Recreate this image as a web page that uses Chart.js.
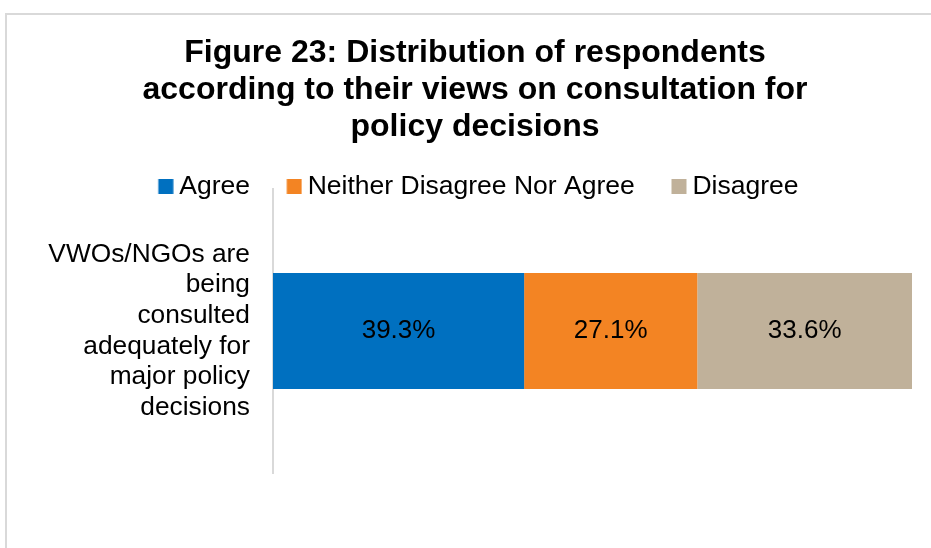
<!DOCTYPE html>
<html>
<head>
<meta charset="utf-8">
<script src="https://cdn.jsdelivr.net/npm/chart.js@4"></script>
<style>
  html, body { margin: 0; padding: 0; background: #ffffff; width: 931px; height: 548px; overflow: hidden; }
  #frame { position: absolute; left: 5px; top: 13px; width: 2000px; height: 2000px;
           border-left: 2px solid #d9d9d9; border-top: 2px solid #d9d9d9; }
  #wrap { position: absolute; left: 38px; top: 0; width: 874px; height: 548px; }
</style>
</head>
<body>
<div id="frame"></div>
<div id="wrap"><canvas id="c"></canvas></div>
<script>
const titleLines = ["Figure 23: Distribution of respondents", "according to their views on consultation for", "policy decisions"];
const categories = [["VWOs/NGOs are", "being", "consulted", "adequately for", "major policy", "decisions"]];
const seriesNames = ["Agree", "Neither Disagree Nor Agree", "Disagree"];
const agreeValues = [39.3];
const neitherValues = [27.1];
const disagreeValues = [33.6];
const seriesColors = ["#0070C0", "#F38423", "#C0B19A"];

const FONT = '"Liberation Sans", Arial, sans-serif';
const LEGEND_FS = 26.5;

// legend marker: a 15px square placed at the right side of a wider transparent image,
// so it sits close to its label text
function markerImage(color) {
  const c = document.createElement('canvas');
  c.width = 42; c.height = 15;
  const g = c.getContext('2d');
  g.fillStyle = color;
  g.fillRect(26.5, 0, 15, 15);
  return c;
}
const markers = seriesColors.map(markerImage);

const valueLabels = {
  id: 'valueLabels',
  afterDatasetsDraw(chart) {
    const ctx = chart.ctx;
    ctx.save();
    ctx.font = '26px ' + FONT;
    ctx.fillStyle = '#000000';
    ctx.textAlign = 'center';
    ctx.textBaseline = 'middle';
    chart.data.datasets.forEach((ds, di) => {
      const meta = chart.getDatasetMeta(di);
      meta.data.forEach((el, i) => {
        const v = ds.data[i];
        const p = el.getProps(['x', 'y', 'base'], true);
        ctx.fillText(v.toFixed(1) + '%', (p.x + p.base) / 2, p.y);
      });
    });
    ctx.restore();
  }
};

const legendShift = {
  id: 'legendShift',
  afterLayout(chart) {
    const lg = chart.legend;
    if (lg) { lg.top += 21; lg.bottom += 21; lg.left -= 6; lg.right -= 6; }
  }
};

new Chart(document.getElementById('c'), {
  type: 'bar',
  data: {
    labels: categories,
    datasets: [
      { label: seriesNames[0], data: agreeValues, backgroundColor: seriesColors[0] },
      { label: seriesNames[1], data: neitherValues, backgroundColor: seriesColors[1] },
      { label: seriesNames[2], data: disagreeValues, backgroundColor: seriesColors[2] }
    ]
  },
  options: {
    indexAxis: 'y',
    responsive: true,
    maintainAspectRatio: false,
    animation: false,
    layout: { padding: { top: 0, bottom: 75, left: 0, right: 0 } },
    datasets: { bar: { categoryPercentage: 1, barPercentage: 0.408, borderWidth: 0 } },
    scales: {
      x: { stacked: true, min: 0, max: 100, display: false },
      y: {
        stacked: true,
        grid: { display: false, drawTicks: false },
        border: { display: true, color: '#d9d9d9', width: 2 },
        ticks: { color: '#000000', padding: 23, font: { family: FONT, size: 26.3, lineHeight: 1.163 } },
        afterFit(scale) { scale.width = 235; scale.paddingTop = 0; scale.paddingBottom = 0; }
      }
    },
    plugins: {
      title: {
        display: true,
        text: titleLines,
        color: '#000000',
        font: { family: FONT, size: 32, weight: 'bold', lineHeight: 36.7 / 32 },
        padding: { top: 35, bottom: -10.6 }
      },
      legend: {
        display: true,
        position: 'top',
        labels: {
          color: '#000000',
          usePointStyle: true,
          boxWidth: LEGEND_FS,
          boxHeight: 15,
          padding: 18,
          font: { family: FONT, size: LEGEND_FS },
          generateLabels(chart) {
            return Chart.defaults.plugins.legend.labels.generateLabels(chart)
              .map((it, i) => Object.assign(it, { pointStyle: markers[i] }));
          }
        }
      },
      tooltip: { enabled: false }
    }
  },
  plugins: [valueLabels, legendShift]
});
</script>
</body>
</html>
